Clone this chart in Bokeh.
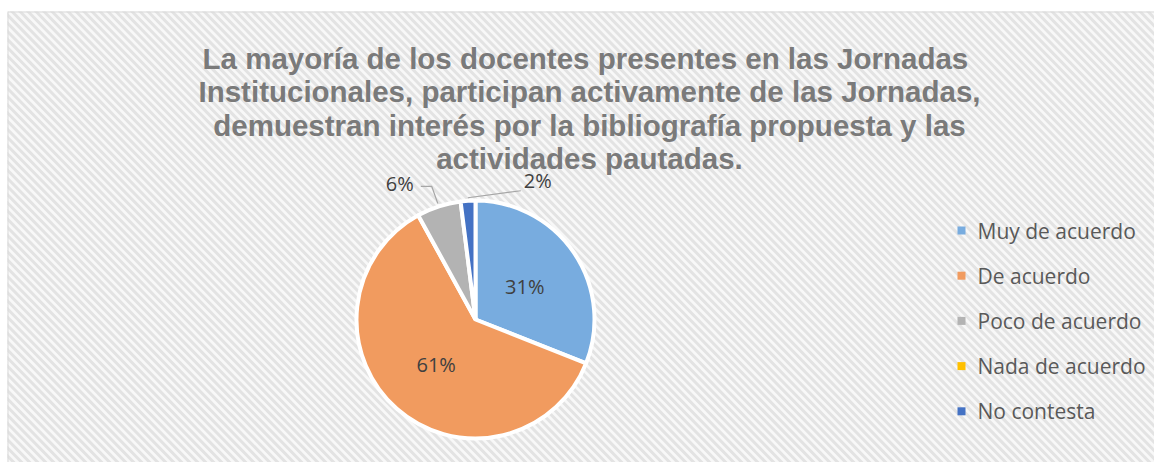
import math
from bokeh.plotting import figure
from bokeh.models import Range1d, Span, ColumnDataSource
from bokeh.core.properties import value
from bokeh.embed import file_html
from bokeh.resources import INLINE

# ---- data ----
title_lines = [
    "La mayoría  de los docentes presentes en las Jornadas",
    "Institucionales, participan activamente de las Jornadas,",
    "demuestran interés por la bibliografía propuesta y las",
    "actividades pautadas.",
]
categories = ["Muy de acuerdo", "De acuerdo", "Poco de acuerdo", "Nada de acuerdo", "No contesta"]
percentages = [31, 61, 6, 0, 2]
colors = ["#78acdf", "#f19b5f", "#b3b3b3", "#ffc000", "#4472c4"]

# ---- figure (data units == page pixels; y = -page_y) ----
X0, Y0, W, H = 7, 11, 1154, 462
p = figure(width=W, height=H,
           x_range=Range1d(X0, W), y_range=Range1d(-H, -Y0),
           output_backend="svg", toolbar_location=None,
           min_border_left=X0, min_border_right=0, min_border_top=Y0, min_border_bottom=0)
p.axis.visible = False
p.grid.visible = False
p.outline_line_color = None
p.border_fill_color = "white"
p.background_fill_color = "#f8f8f8"

# diagonal stripe background (decoration)
sx, sy = [], []
step = 8
c = X0 - H
while c < W + Y0 + 10:
    sx.append([c - 10, c + H + 10])
    sy.append([10, -(H + 20)])
    c += step
p.multi_line(xs=sx, ys=sy, line_color="#e3e3e3", line_width=3, level="underlay")

p.add_layout(Span(location=-Y0, dimension="width", line_color="#d9d9d9", line_width=2))
p.add_layout(Span(location=X0, dimension="height", line_color="#d9d9d9", line_width=2))

# ---- pie ----
cx, cy, r = 475, -319, 119
total = float(sum(percentages))
starts, ends, cols = [], [], []
cum = 0.0
mid_angles = []
for val, col in zip(percentages, colors):
    a0 = math.pi / 2 - 2 * math.pi * cum / total
    cum += val
    a1 = math.pi / 2 - 2 * math.pi * cum / total
    mid_angles.append((a0 + a1) / 2)
    if val > 0:
        starts.append(a0)
        ends.append(a1)
        cols.append(col)

src = ColumnDataSource(dict(start=starts, end=ends, color=cols))
p.wedge(x=cx, y=cy, radius=r, start_angle="start", end_angle="end", direction="clock",
        fill_color="color", line_color="white", line_width=4, source=src)

in_x, in_y, in_t = [], [], []
out_lines_x, out_lines_y = [], []
out_x, out_y, out_t, out_align = [], [], [], []
for val, ang in zip(percentages, mid_angles):
    if val == 0:
        continue
    lab = f"{val}%"
    if val >= 10:
        in_x.append(cx + 0.5 * r * math.cos(ang))
        in_y.append(cy + 0.5 * r * math.sin(ang))
        in_t.append(lab)
    else:
        ex = cx + (r + 3) * math.cos(ang)
        ey = cy + (r + 3) * math.sin(ang)
        if math.cos(ang) < -0.1:
            xs = [ex, ex - 6, ex - 17]
            ys = [ey, ey + 17, ey + 17]
            out_x.append(ex - 24); out_y.append(ey + 20); out_align.append("right")
        else:
            xs = [ex, ex + 53]
            ys = [ey, ey + 7]
            out_x.append(ex + 56); out_y.append(ey + 17); out_align.append("left")
        out_lines_x.append(xs); out_lines_y.append(ys)
        out_t.append(lab)

p.text(x=in_x, y=in_y, text=in_t, text_font=value("Open Sans"), text_font_size="20px",
       text_align="center", text_baseline="middle", text_color="#404040")
p.multi_line(xs=out_lines_x, ys=out_lines_y, line_color="#a6a6a6", line_width=1.2)
p.text(x=out_x, y=out_y, text=out_t, text_align=out_align, text_font=value("Open Sans"),
       text_font_size="20px", text_baseline="middle", text_color="#404040")

# ---- legend ----
leg_y = [-230 - i * 45.2 for i in range(len(categories))]
p.scatter(x=[961] * len(categories), y=leg_y, marker="square", size=8,
          fill_color=colors, line_color=None)
p.text(x=[977] * len(categories), y=leg_y, text=categories, text_font=value("Open Sans"),
       text_font_size="21px", text_align="left", text_baseline="middle", text_color="#595959")

# ---- title ----
title_y = [-58 - i * 33.3 for i in range(len(title_lines))]
p.text(x=[589] * len(title_lines), y=title_y, text=title_lines,
       text_font=value("Liberation Sans"), text_font_style="bold", text_font_size="29.5px",
       text_align="center", text_baseline="alphabetic", text_color="#7a7a7a")

open("out.html", "w").write(file_html(p, INLINE))
